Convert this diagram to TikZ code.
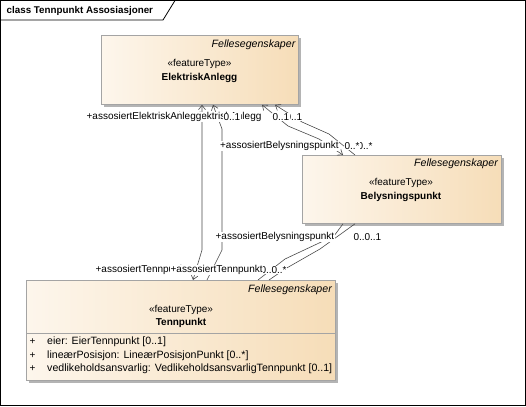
\documentclass[tikz,border=0pt]{standalone}
\usepackage{fontspec}
\setmainfont{Liberation Sans}
\usetikzlibrary{arrows.meta,shadows}
\definecolor{lc}{HTML}{4A4A4A}
\definecolor{bd}{HTML}{A4A4A4}
\definecolor{sh}{HTML}{B4B4B4}
\definecolor{gl}{HTML}{FDF6EC}
\definecolor{gr}{HTML}{F6DDB8}
\newcommand{\fa}{\fontsize{10}{12}\selectfont}
\newcommand{\fb}{\fontsize{10.6}{12}\selectfont}
\begin{document}
\begin{tikzpicture}[x=1pt,y=-1pt,font=\fa,
  cls/.style={draw=bd,line width=0.8pt,left color=gl,right color=gr,anchor=north west,
    drop shadow={shadow xshift=3pt,shadow yshift=-3pt,fill=sh,opacity=1}},
  conn/.style={draw=lc,line width=0.6pt},
  hd/.tip={Straight Barb[length=4.5pt,width=7pt]},
  lab/.style={fill=white,inner sep=0.4pt},
  txt/.style={inner sep=0pt}]
\useasboundingbox (0,0) rectangle (526,406);
% frame
\draw[line width=0.8pt] (0.5,0.5) rectangle (525.5,405.5);
\draw[line width=0.8pt] (0.5,20) -- (163,20) -- (175,0.5);
\node[txt,anchor=west,font=\fontsize{9.8}{11}\selectfont\bfseries] (title) at (6.5,10.5) {class Tennpunkt Assosiasjoner};
% classes
\node[cls,minimum width=197pt,minimum height=69pt] (ea) at (101,35) {};
\node[cls,minimum width=199pt,minimum height=68pt] (bp) at (302,155) {};
\node[cls,minimum width=309pt,minimum height=100pt] (tp) at (26,280) {};
\node[txt,anchor=east,font=\fb\itshape] (eaf) at (295.5,45) {Fellesegenskaper};
\node[txt] (eas) at (199.5,64) {«featureType»};
\node[txt,font=\fa\bfseries] (ean) at (199.5,77.5) {ElektriskAnlegg};
\node[txt,anchor=east,font=\fb\itshape] (bpf) at (498,164) {Fellesegenskaper};
\node[txt] (bps) at (401,183) {«featureType»};
\node[txt,font=\fa\bfseries] (bpn) at (401,197) {Belysningspunkt};
\node[txt,anchor=east,font=\fb\itshape] (tpf) at (332,290) {Fellesegenskaper};
\node[txt] (tps) at (181,310) {«featureType»};
\node[txt,font=\fa\bfseries] (tpn) at (181,323) {Tennpunkt};
\draw[draw=bd,line width=0.8pt] ([yshift=-53pt]tp.north west) -- ([yshift=-53pt]tp.north east);
\node[txt] (p1) at (32.5,342) {+};
\node[txt] (p2) at (32.5,355.5) {+};
\node[txt] (p3) at (32.5,369) {+};
\node[txt,anchor=west,font=\fb] (a1) at (47,342) {eier: EierTennpunkt [0..1]};
\node[txt,anchor=west,font=\fb] (a2) at (47,355.5) {lineærPosisjon: LineærPosisjonPunkt [0..*]};
\node[txt,anchor=west,font=\fb] (a3) at (47,369) {vedlikeholdsansvarlig: VedlikeholdsansvarligTennpunkt [0..1]};
% connectors Tennpunkt - ElektriskAnlegg
\draw[conn,hd-hd] ([xshift=101pt]ea.south west) -- (202,250) -- ([xshift=167pt]tp.north west);
\draw[conn,hd-] ([xshift=112pt]ea.south west) -- (222,129) -- (222,250) -- ([xshift=181pt]tp.north west);
% ElektriskAnlegg - Belysningspunkt
\draw[conn,hd-hd] ([xshift=161pt]ea.south west) -- (288,126) -- (319,139) -- ([xshift=41pt]bp.north west);
\draw[conn,hd-] ([xshift=174pt]ea.south west) -- (302,122) -- (329,134) -- ([xshift=53pt]bp.north west);
% Belysningspunkt - Tennpunkt
\draw[conn] ([xshift=41pt]bp.south west) -- (334,236) -- (285,259) -- ([xshift=232pt]tp.north west);
\draw[conn] ([xshift=53pt]bp.south west) -- (320,249) -- (285,269) -- ([xshift=243pt]tp.north west);
% labels
\node[lab,anchor=east] (l2) at (262,117) {+assosiertElektriskAnlegg};
\node[lab,anchor=east] (l1) at (202,117) {+assosiertElektriskAnlegg\hspace{3pt}};
\node[lab,anchor=west] (m1) at (223,117) {0..1\hspace{8pt}};
\node[lab,anchor=west] (m3) at (285,117) {0..1};
\node[lab,anchor=west] (m2) at (272,117) {0..1\hspace{4pt}};
\node[lab,anchor=west] (l4) at (219.5,146) {+assosiertBelysningspunkt};
\node[lab,anchor=west] (m5) at (357,146) {0..*};
\node[lab,anchor=west] (m4) at (344,146) {0..*\hspace{5pt}};
\node[lab,anchor=west] (l5) at (215,237) {+assosiertBelysningspunkt};
\node[lab,anchor=west] (m6) at (353,237) {0..1};
\node[lab,anchor=west] (m7) at (364,237) {0..1};
\node[lab,anchor=west] (l6) at (95,270) {+assosiertTennpunkt};
\node[lab,anchor=west] (m8) at (260,270) {0..*};
\node[lab,anchor=west] (l7) at (170,270) {+assosiertTennpunkt};
\node[lab,anchor=west] (m9) at (271,270) {0..*};
\end{tikzpicture}
\end{document}
